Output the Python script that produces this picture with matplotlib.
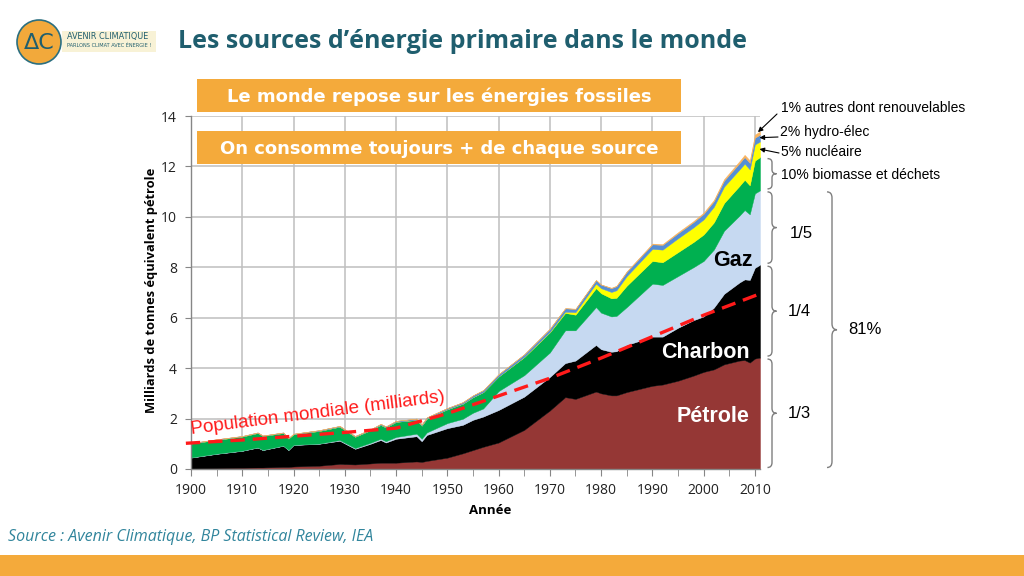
import matplotlib
matplotlib.use("Agg")
import matplotlib.pyplot as plt
from matplotlib.patches import Rectangle, Circle, PathPatch
from matplotlib.path import Path
import numpy as np

# ---------------- data (Gtep) ----------------
years = [1900, 1905, 1910, 1913, 1914, 1918, 1919, 1920, 1925, 1929, 1932, 1935, 1937, 1938,
         1940, 1944, 1945, 1946, 1950, 1953, 1955, 1957, 1960, 1965, 1970, 1973, 1975, 1979,
         1980, 1982, 1983, 1985, 1990, 1992, 1995, 1998, 2000, 2002, 2004, 2007, 2008, 2009,
         2010, 2011]
oil = [0.02, 0.03, 0.05, 0.06, 0.06, 0.08, 0.08, 0.10, 0.13, 0.20, 0.18, 0.22, 0.25, 0.25,
       0.25, 0.30, 0.28, 0.32, 0.45, 0.62, 0.75, 0.88, 1.05, 1.55, 2.32, 2.85, 2.78, 3.07,
       3.00, 2.92, 2.92, 3.05, 3.30, 3.35, 3.50, 3.70, 3.85, 3.95, 4.15, 4.30, 4.32, 4.22,
       4.38, 4.42]
coal = [0.43, 0.57, 0.67, 0.79, 0.69, 0.84, 0.67, 0.85, 0.87, 0.92, 0.62, 0.78, 0.90, 0.80,
        0.95, 1.00, 0.82, 1.03, 1.17, 1.13, 1.20, 1.20, 1.29, 1.32, 1.33, 1.35, 1.52, 1.85,
        1.75, 1.73, 1.75, 1.87, 1.95, 1.90, 2.10, 2.20, 2.20, 2.45, 2.80, 3.10, 3.20, 3.28,
        3.60, 3.68]
gas = [0.01, 0.01, 0.01, 0.01, 0.01, 0.01, 0.01, 0.01, 0.01, 0.03, 0.03, 0.04, 0.05, 0.05,
       0.07, 0.10, 0.10, 0.10, 0.20, 0.24, 0.28, 0.32, 0.75, 0.85, 0.97, 1.30, 1.20, 1.50,
       1.45, 1.40, 1.40, 1.50, 2.10, 2.05, 2.05, 2.10, 2.20, 2.30, 2.50, 2.65, 2.75, 2.60,
       2.95, 2.95]
biomass = [0.55, 0.55, 0.56, 0.57, 0.55, 0.50, 0.45, 0.42, 0.50, 0.53, 0.45, 0.50, 0.55, 0.55,
           0.60, 0.55, 0.52, 0.55, 0.55, 0.60, 0.62, 0.65, 0.58, 0.72, 0.80, 0.69, 0.62, 0.75,
           0.77, 0.72, 0.72, 0.85, 0.90, 0.90, 0.95, 1.00, 1.05, 1.08, 1.10, 1.18, 1.20, 1.15,
           1.30, 1.32]
nuclear = [0, 0, 0, 0, 0, 0, 0, 0, 0, 0, 0, 0, 0, 0,
           0, 0, 0, 0, 0, 0, 0, 0, 0, 0.01, 0.02, 0.05, 0.10, 0.18,
           0.20, 0.25, 0.30, 0.38, 0.48, 0.50, 0.55, 0.58, 0.60, 0.62, 0.65, 0.65, 0.64, 0.63,
           0.64, 0.62]
hydro = [0.02, 0.02, 0.02, 0.02, 0.02, 0.02, 0.02, 0.02, 0.03, 0.03, 0.03, 0.03, 0.04, 0.04,
         0.04, 0.05, 0.05, 0.05, 0.05, 0.06, 0.07, 0.08, 0.09, 0.10, 0.12, 0.13, 0.13, 0.14,
         0.14, 0.15, 0.16, 0.17, 0.18, 0.19, 0.20, 0.21, 0.22, 0.22, 0.24, 0.25, 0.26, 0.26,
         0.27, 0.27]
other = [0, 0, 0, 0, 0, 0, 0, 0, 0, 0, 0, 0, 0, 0,
         0, 0, 0, 0, 0, 0, 0, 0, 0, 0, 0.01, 0.01, 0.01, 0.01,
         0.01, 0.02, 0.02, 0.02, 0.03, 0.03, 0.04, 0.04, 0.05, 0.05, 0.06, 0.08, 0.09, 0.10,
         0.12, 0.13]

pop_years = [1899, 1910, 1920, 1930, 1940, 1950, 1960, 1970, 1980, 1990, 2000, 2011]
population = [1.02, 1.15, 1.30, 1.45, 1.62, 2.20, 2.90, 3.60, 4.40, 5.25, 6.10, 6.95]

series_colors = ['#953735', '#000000', '#c6d9f1', '#00b050', '#ffff00', '#558ed5', '#f9b25c']
xtick_years = list(range(1900, 2011, 10))
yticks = [0, 2, 4, 6, 8, 10, 12, 14]

TEAL = '#1f5e6e'
ORANGE = '#f4aa3b'

W, H = 1024, 576
fig = plt.figure(figsize=(W / 100, H / 100), dpi=100)
fig.patch.set_facecolor('white')


def fx(px):
    return px / W


def fy(py):
    return 1 - py / H


ax = fig.add_axes([fx(191), fy(469), fx(760) - fx(191), fy(116) - fy(469)])
ax.set_axisbelow(True)
ax.stackplot(years, oil, coal, gas, biomass, nuclear, hydro, other,
             colors=series_colors, linewidth=0.3, edgecolor='face')
ax.plot(pop_years, population, color='#ff1a1a', lw=2.4, dashes=(4.3, 2.4),
        clip_on=False, zorder=5)

ax.set_xlim(1900, 2011)
ax.set_ylim(0, 14)
ax.set_xticks(xtick_years)
ax.set_xticks(range(1905, 2011, 10), minor=True)
ax.set_yticks(yticks)
ax.grid(True, which='major', color='#bfbfbf', lw=1.1)
for s in ['top', 'right']:
    ax.spines[s].set_visible(False)
for s in ['left', 'bottom']:
    ax.spines[s].set_color('#868686')
    ax.spines[s].set_linewidth(1)
ax.tick_params(axis='x', which='both', length=5, color='#868686', labelsize=10,
               labelcolor='#222222', pad=5)
ax.tick_params(axis='y', which='major', length=4, color='#868686', labelsize=10,
               labelcolor='#222222', pad=6)
for lab in ax.get_xticklabels() + ax.get_yticklabels():
    lab.set_fontfamily('Open Sans')

fig.text(fx(152), fy(290), 'Milliards de tonnes équivalent pétrole', rotation=90,
         ha='center', va='center', fontsize=9.3, fontweight='bold', family='Open Sans')
fig.text(fx(490), fy(510), 'Année', ha='center', va='center', fontsize=9.5,
         fontweight='bold', family='Open Sans')

# population label
fig.text(fx(318), fy(413), 'Population mondiale (milliards)', rotation=7.3, color='#ff1a1a',
         ha='center', va='center', fontsize=13.5, family='Liberation Sans')

# layer labels
fig.text(fx(733), fy(260), 'Gaz', ha='center', va='center', fontsize=15.5,
         fontweight='bold', color='black', family='Liberation Sans')
fig.text(fx(705), fy(352), 'Charbon', ha='center', va='center', fontsize=15.5,
         fontweight='bold', color='white', family='Liberation Sans')
fig.text(fx(713), fy(416), 'Pétrole', ha='center', va='center', fontsize=15.5,
         fontweight='bold', color='white', family='Liberation Sans')

# orange message boxes
for (top, bot, txt) in [(79, 112, 'Le monde repose sur les énergies fossiles'),
                        (131, 164, 'On consomme toujours + de chaque source')]:
    r = Rectangle((fx(197), fy(bot)), fx(681) - fx(197), fy(top) - fy(bot),
                  transform=fig.transFigure, facecolor=ORANGE, edgecolor='none', zorder=10)
    fig.add_artist(r)
    fig.text(fx(439), fy((top + bot) / 2 + 1), txt, ha='center', va='center', color='white',
             fontsize=13, fontweight='bold', family='DejaVu Sans', zorder=11)

# title
fig.text(fx(178), fy(42), 'Les sources d’énergie primaire dans le monde', ha='left',
         va='center', fontsize=18, fontweight='bold', color=TEAL, family='Open Sans')

# logo
circ = Circle((39 / 100, (H - 42) / 100), 0.22, transform=fig.dpi_scale_trans,
              facecolor='#f2a93b', edgecolor='#2b6f80', lw=1.2, zorder=3)
fig.add_artist(circ)
fig.add_artist(Rectangle((fx(62), fy(52)), fx(156) - fx(62), fy(31) - fy(52),
                         transform=fig.transFigure, facecolor='#f8f2d6', edgecolor='none', zorder=2))
fig.text(fx(39), fy(43), 'ΔC', ha='center', va='center', fontsize=16, color=TEAL,
         family='DejaVu Sans', zorder=4)
fig.text(fx(67), fy(37), 'AVENIR CLIMATIQUE', ha='left', va='center', fontsize=5.9,
         color=TEAL, family='DejaVu Sans', zorder=4)
fig.text(fx(67), fy(45), 'PARLONS CLIMAT AVEC ÉNERGIE !', ha='left', va='center',
         fontsize=3.6, color=TEAL, family='DejaVu Sans', zorder=4)

# source + footer
fig.text(fx(8), fy(537), 'Source : Avenir Climatique, BP Statistical Review, IEA', ha='left',
         va='center', fontsize=11.5, style='italic', color='#31859c', family='Open Sans')
fig.add_artist(Rectangle((0, 0), 1, fy(555), transform=fig.transFigure,
                         facecolor=ORANGE, edgecolor='none'))

# cumulative tops at the last year
cum = np.cumsum(np.array([oil, coal, gas, biomass, nuclear, hydro, other]), axis=0)
last = cum[:, -1]


def ypix(v):
    return ax.transData.transform((2011, v))[1]


def brace(xb, v0, v1, w=4.5, r=5.0):
    yb = ypix(v0) + 1.5
    yt = ypix(v1) - 1.5
    ym = (yb + yt) / 2
    verts = [(xb - w, yt), (xb, yt), (xb, yt - r),
             (xb, ym + r), (xb, ym), (xb + w, ym),
             (xb, ym), (xb, ym - r),
             (xb, yb + r), (xb, yb), (xb - w, yb)]
    codes = [Path.MOVETO, Path.CURVE3, Path.CURVE3,
             Path.LINETO, Path.CURVE3, Path.CURVE3,
             Path.CURVE3, Path.CURVE3,
             Path.LINETO, Path.CURVE3, Path.CURVE3]
    p = PathPatch(Path(verts, codes), transform=None, facecolor='none',
                  edgecolor='#7f7f7f', lw=1.0)
    fig.add_artist(p)
    return ym


brace(772, last[2], last[3], w=4.5, r=4)
brace(772, last[1], last[2])
brace(772, last[0], last[1])
brace(772, 0, last[0])
brace(832, 0, last[2], w=5, r=6)

fs_r = 10
fig.text(fx(781), fy(108), '1% autres dont renouvelables', ha='left', va='center',
         fontsize=fs_r, family='Liberation Sans')
fig.text(fx(780), fy(132), '2% hydro-élec', ha='left', va='center', fontsize=fs_r,
         family='Liberation Sans')
fig.text(fx(781), fy(152), '5% nucléaire', ha='left', va='center', fontsize=fs_r,
         family='Liberation Sans')
fig.text(fx(781), fy(175), '10% biomasse et déchets', ha='left', va='center',
         fontsize=fs_r, family='Liberation Sans')
fig.text(fx(801), fy(233), '1/5', ha='center', va='center', fontsize=12, family='Liberation Sans')
fig.text(fx(799), fy(311), '1/4', ha='center', va='center', fontsize=12, family='Liberation Sans')
fig.text(fx(799), fy(413), '1/3', ha='center', va='center', fontsize=12, family='Liberation Sans')
fig.text(fx(865), fy(329), '81%', ha='center', va='center', fontsize=12, family='Liberation Sans')

arrow_kw = dict(arrowstyle='-|>', color='black', lw=0.8, mutation_scale=7,
                shrinkA=0, shrinkB=0)
ax.annotate('', xy=(2010.6, last[6] - 0.03), xytext=(777, H - 114),
            textcoords='figure pixels', arrowprops=arrow_kw, annotation_clip=False)
ax.annotate('', xy=(2010.9, last[5] - 0.12), xytext=(778, H - 137),
            textcoords='figure pixels', arrowprops=arrow_kw, annotation_clip=False)
ax.annotate('', xy=(2010.9, last[4] - 0.3), xytext=(779, H - 153),
            textcoords='figure pixels', arrowprops=arrow_kw, annotation_clip=False)

fig.savefig('out.png', dpi=100)
